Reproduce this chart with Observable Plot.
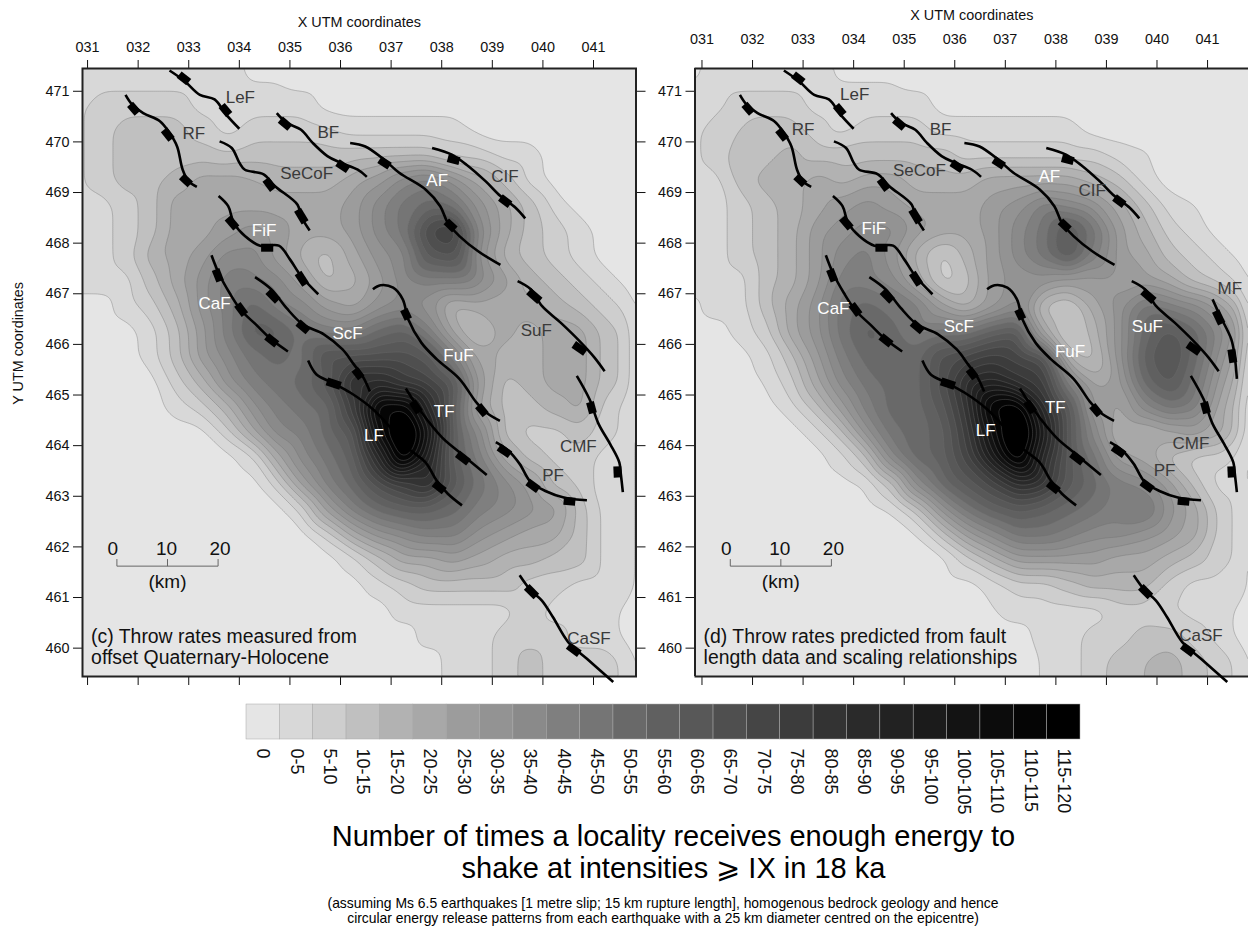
<!DOCTYPE html>
<html><head><meta charset="utf-8">
<script src="https://cdn.jsdelivr.net/npm/d3@7"></script>
<script src="https://cdn.jsdelivr.net/npm/@observablehq/plot@0.6"></script>
<style>
html,body{margin:0;padding:0;background:#fff;overflow:hidden}
#page{position:relative;width:1248px;height:929px;font-family:"Liberation Sans",Arial,sans-serif;color:#000}
#page svg{position:absolute;overflow:visible;background:transparent}
#title{position:absolute;left:0;width:1347px;top:820px;text-align:center;font-size:29px;line-height:32px;white-space:nowrap}
#note{position:absolute;left:0;width:1326px;top:896px;text-align:center;font-size:13.9px;line-height:15px;white-space:nowrap}
</style></head><body><div id="page">
<div id="title">Number of times a locality receives enough energy to<br>shake at intensities ⩾ IX in 18 ka</div>
<div id="note">(assuming Ms 6.5 earthquakes [1 metre slip; 15 km rupture length], homogenous bedrock geology and hence<br>circular energy release patterns from each earthquake with a 25 km diameter centred on the epicentre)</div>
</div>
<script>
const bandLabels=["0","0-5","5-10","10-15","15-20","20-25","25-30","30-35","35-40","40-45","45-50","50-55","55-60","60-65","65-70","70-75","75-80","80-85","85-90","90-95","95-100","100-105","105-110","110-115","115-120"];
const bandColors=["#e5e5e5","#d8d8d8","#cecece","#c0c0c0","#b2b2b2","#a8a8a8","#9c9c9c","#939393","#8a8a8a","#7f7f7f","#757575","#696969","#606060","#585858","#4f4f4f","#454545","#3c3c3c","#333333","#2a2a2a","#222222","#1b1b1b","#131313","#0c0c0c","#050505","#000000"];
const xTicks=[31,32,33,34,35,36,37,38,39,40,41];
const yTicks=[460,461,462,463,464,465,466,467,468,469,470,471];
// band index (0..24) read at each grid node; rows top to bottom, 23 columns
const gridC=[
[0,1,1,1,1,1,0,0,0,0,0,0,0,0,0,0,0,0,0,0,0,0,0],
[0,1,1,1,1,1,1,.4,.4,0,0,0,0,0,0,0,0,0,0,0,0,0,0],
[1,2,2,2,2,1,1,1,1,1,0,0,0,0,0,0,0,0,0,0,0,0,0],
[1,2,3,3,3,2,1,2,2,2,1.6,1,1,1,1,1,0,0,0,0,0,0,0],
[1,2,3,3,3,3,2.5,3,3,3,3,3,3,3,3,2,2,1,1,0,0,0,0],
[1,2,3,3,4,5,5,4.6,4,4,4,5,6,8,9,7,5,3,1,0,0,0,0],
[1,1,2,3,5,5,5,5,5,5,5,6,8,10,11,10,7,5,3,1,0,0,0],
[1,1,2,3,5,5,6,7,6,5,5,6,8,10,15,16,8,5,3,2,1,0,0],
[1,1,2,4,5,6,8,8,6,4,3,5,7,8,13,14,7,4,3,2,1,0,0],
[1,1,1,3,5,7,9,9,8,6,3,4,6,8,9,9,8,6,4,3,2,1,0],
[0,0,1,2,4,7,9,11,9,8,6,5,7,8,7,4,5,5,5,4,3,2,1],
[0,0,0,1,3,6,9,12,12,10,9,9,11,12,9,5,3,5,4,5,5,3,2],
[0,0,0,1,3,6,8,10,11,10,14,14,14,14,13,9,5,4,4,5,5,3,2],
[0,0,0,0,2,4,7,9,10,11,13,18,18,16,15,13,6,3,4,5,5,3,2],
[0,0,0,0,1,2,4,7,9,10,11,16,24,24,18,12,5,3,3,4,5,2,1],
[0,0,0,0,0,0,2,5,8,9,11,13,22,27,21,12,8,3,2,2,3,2,1],
[0,0,0,0,0,0,0,1,5,8,10,12,18,25,19,12,9,5,3,2,2,1,1],
[0,0,0,0,0,0,0,0,2,6,9,11,14,16,18,13,10,8,6,3,2,1,1],
[0,0,0,0,0,0,0,0,0,2,6,9,11,12,12,11,9,8,7,6,3,1,1],
[0,0,0,0,0,0,0,0,0,0,2,5,7,8,9,9,7,6,5,5,3,1,1],
[0,0,0,0,0,0,0,0,0,0,0,1,3,5,5,6,5,4,4,3,3,1,1],
[0,0,0,0,0,0,0,0,0,0,0,0,1,2,3,3,3,3,2,2,1,1,1],
[0,0,0,0,0,0,0,0,0,0,0,0,0,1,1,1,1,1,2,1,1,1,0],
[0,0,0,0,0,0,0,0,0,0,0,0,0,0,1,1,1,2,2,2,1,1,0],
[0,0,0,0,0,0,0,0,0,0,0,0,0,0,0,1,1,2,3,2,2,2,1],
[0,0,0,0,0,0,0,0,0,0,0,0,0,0,0,1,1,2,3,2,2,2,1]
];
const gridD=[
[0,1,1,1,1,1,0,0,0,0,0,0,0,0,0,0,0,0,0,0,0,0,0],
[0,1,1,1,1,1,.4,.4,.4,0,0,0,0,0,0,0,0,0,0,0,0,0,0],
[1,1,2,2,2,1,1,1,1,1,0,0,0,0,0,0,0,0,0,0,0,0,0],
[1,2,2.5,3,3,2,1,2,2,2,1,1,1,1,1,1,0,0,0,0,0,0,0],
[1,2,3,3,4,3,3,3,3,3,3,2,2,2,2,2,2,1,.6,0,0,0,0],
[1,1,3,4,4,5,4,5,5,4,4,4,5,5,5,5,4,3,1,0,0,0,0],
[1,1,2,3,4,5,6,7,6,5,5,5,6,7,9,8,7,5,3,1,.5,0,0],
[1,1,2,3,4,6,7,8,8,6,5,5,6,8,10,13,10,6,4,2,1,0,0],
[1,1,2,3,4,6,8,9,7,4,2,4,6,8,10,13,9,6,5,3,2,1,0],
[1,1,1,3,4,6,9,9,8,5,2,3,6,7,7,6,6,6,6,5,3,2,1],
[0,1,1,3,5,7,10,11,10,9,6,4,6,8,3,2,5,7,10,9,8,6,3],
[0,0,1,2,5,7,10,12,11,9,10,10,12,13,5,2,4,7,11,13,11,8,5],
[0,0,0,1,3,6,9,11,11,11,14,15,16,15,14,4,3,7,12,14,11,7,4],
[0,0,0,.5,2,5,8,10,11,11,14,18,19,17,16,9,5,6,11,13,10,6,3],
[0,0,0,0,1,3,6,9,11,11,13,17,24,25,18,13,6,5,8,10,9,5,2],
[0,0,0,0,0,1,3,7,10,11,12,16,22,27,20,13,8,4,4,5,6,5,2],
[0,0,0,0,0,0,1,3,8,11,12,15,20,25,18,13,10,6,5,3,2,2,1],
[0,0,0,0,0,0,0,.5,3,8,11,13,15,18,17,13,11,9,8,6,3,1,1],
[0,0,0,0,0,0,0,0,.5,3,7,10,12,13,12,11,10,9,10,7,5,2,1],
[0,0,0,0,0,0,0,0,0,.3,3,6,8,10,10,9,8,8,7,6,5,2,1],
[0,0,0,0,0,0,0,0,0,0,0,2,4,6,6,6,6,5,5,4,3,2,1],
[0,0,0,0,0,0,0,0,0,0,0,0,1,2,2,3,4,4,4,2,1,1,1],
[0,0,0,0,0,0,0,0,0,0,0,0,.4,1,1,1,1,2,2,1.5,1,1,0],
[0,0,0,0,0,0,0,0,0,0,0,0,0,0,1,1,2,2,3,3,2,1,0],
[0,0,0,0,0,0,0,0,0,0,0,0,0,0,.6,1,2,3,3.5,4,3,2,1],
[0,0,0,0,0,0,0,0,0,0,0,0,0,0,.6,1,2,3,3.5,4,3,2,1]
];
const faultLines={
LeF:[[32.62,471.41],[32.92,471.2],[33.22,470.93],[33.51,470.84],[33.74,470.54],[34,470.26]],
RF:[[31.75,470.93],[31.88,470.74],[32.1,470.57],[32.43,470.41],[32.62,470.18],[32.77,469.91],[32.88,469.45],[33,469.22],[33.16,469.11]],
BF:[[34.74,470.57],[34.93,470.38],[35.22,470.24],[35.45,469.98],[35.74,469.72],[36,469.59],[36.34,469.45],[36.52,469.31]],
SeCoF:[[33.61,470.01],[33.85,469.88],[34,469.59],[34.11,469.45],[34.48,469.36],[34.7,469.13],[35.15,468.76],[35.22,468.53],[35.39,468.25]],
FiF:[[33.59,468.93],[33.78,468.73],[33.89,468.4],[34.11,468.14],[34.41,467.95],[34.78,467.95],[35,467.68],[35.22,467.35],[35.56,466.99]],
AF:[[36.19,469.98],[36.49,469.91],[36.86,469.65],[37.16,469.39],[37.68,469.06],[37.97,468.73],[38.12,468.4],[38.35,468.14],[38.72,467.84],[39.16,467.57]],
CIF:[[37.81,469.88],[38.2,469.75],[38.49,469.55],[38.87,469.22],[39.16,468.93],[39.46,468.7],[39.65,468.49]],
CaF:[[33.45,467.76],[33.59,467.41],[33.81,467.01],[34.03,466.68],[34.33,466.39],[34.63,466.1],[34.96,465.86]],
ScF:[[34.31,467.33],[34.63,467.09],[34.93,466.72],[35.26,466.39],[35.67,466.2],[36.04,465.9],[36.26,465.61],[36.45,465.35],[36.58,465.07]],
FuF:[[36.64,467.09],[36.79,467.17],[37.04,467.12],[37.23,466.89],[37.34,466.49],[37.6,466.03],[37.9,465.71],[38.35,465.32],[38.68,464.86],[38.87,464.66],[39.15,464.49]],
SuF:[[39.5,467.25],[39.76,467.09],[39.98,466.76],[40.35,466.43],[40.72,466.07],[41.02,465.74],[41.22,465.47]],
LF:[[35.36,465.68],[35.52,465.41],[35.82,465.25],[36.19,465.05],[36.64,464.72],[37.01,464.33],[37.31,463.97],[37.68,463.67],[37.9,463.31],[38.12,463.05],[38.4,462.82]],
TF:[[37.29,465.13],[37.6,464.66],[38.01,464.16],[38.35,463.87],[38.89,463.42]],
PF:[[39.07,464.07],[39.32,463.9],[39.54,463.64],[39.76,463.28],[40.06,463.1],[40.43,462.97],[40.87,462.92]],
CMF:[[40.67,465.38],[40.92,464.92],[41.1,464.43],[41.33,464.03],[41.51,463.67],[41.54,463.44],[41.58,463.08]],
CaSF:[[39.54,461.44],[39.76,461.14],[39.98,460.94],[40.2,460.61],[40.5,460.12],[40.87,459.79],[41.39,459.33]]
};
const faultMF=[[41.1,466.89],[41.25,466.56],[41.47,466.1],[41.54,465.74],[41.58,465.32]];
const faultTicks=[[32.81,471.33,33,471.18],[33.65,470.72,33.8,470.54],[31.84,470.74,31.99,470.57],[32.51,470.24,32.66,470.05],[32.86,469.32,33.03,469.16],[34.81,470.44,35,470.28],[35.94,469.59,36.15,469.45],[34.52,469.26,34.67,469.06],[35.15,468.66,35.3,468.41],[33.77,468.5,33.94,468.3],[34.43,467.91,34.67,467.91],[35.16,467.41,35.31,467.18],[36.77,469.65,36.97,469.52],[38.09,468.43,38.26,468.27],[38.12,469.68,38.35,469.62],[39.16,468.9,39.35,468.76],[33.53,467.48,33.62,467.25],[33.96,466.79,34.11,466.59],[34.54,466.16,34.74,466],[34.57,467.05,34.76,466.86],[35.16,466.43,35.36,466.26],[36.28,465.51,36.41,465.34],[37.25,466.69,37.34,466.5],[38.72,464.79,38.87,464.61],[39.72,467.05,39.94,466.86],[40.61,466,40.84,465.84],[35.73,465.27,36,465.18],[37.85,463.26,38.05,463.1],[37.42,464.87,37.56,464.66],[38.31,463.84,38.53,463.67],[39.13,463.97,39.35,463.82],[39.7,463.28,39.91,463.13],[40.41,462.91,40.64,462.89],[40.93,464.86,40.99,464.64],[41.47,463.59,41.48,463.37],[39.68,461.21,39.87,461.02],[40.5,460.05,40.72,459.89]];
const faultTicksMF=[[41.16,466.66,41.28,466.41],[41.47,465.9,41.51,465.64]];
const labelsC=[["LeF",34.02,470.87,0],["RF",33.1,470.16,0],["BF",35.76,470.18,0],["SeCoF",35.33,469.37,0],["AF",37.91,469.24,1],["CIF",39.25,469.32,0],["FiF",34.49,468.25,1],["CaF",33.51,466.8,1],["ScF",36.14,466.21,1],["SuF",39.87,466.28,0],["FuF",38.33,465.78,1],["TF",38.05,464.68,1],["LF",36.66,464.2,1],["CMF",40.7,463.98,0],["PF",40.2,463.4,0],["CaSF",40.91,460.18,0]];
const labelsD=[["LeF",34.02,470.94,0],["RF",33.0,470.25,0],["BF",35.72,470.25,0],["SeCoF",35.3,469.43,0],["AF",37.87,469.32,1],["CIF",38.72,469.03,0],["FiF",34.4,468.28,1],["CaF",33.6,466.71,1],["ScF",36.08,466.35,1],["SuF",39.81,466.35,1],["FuF",38.28,465.86,1],["TF",37.99,464.76,1],["LF",36.61,464.3,1],["CMF",40.67,464.05,0],["PF",40.15,463.5,0],["CaSF",40.87,460.25,0],["MF",41.44,467.1,0]];
const panelCaptionC="(c) Throw rates measured from\noffset Quaternary-Holocene";
const panelCaptionD="(d) Throw rates predicted from fault\nlength data and scaling relationships";
const scaleBarKm=[["0",-.8],["10",9.8],["20",20.4]];

const thresholds=bandLabels.slice(1).map((_,i)=>i+0.5);
const font='"Liberation Sans",Arial,sans-serif';
const toNodes=g=>g.flatMap((row,r)=>row.map((v,c)=>({x:30.75+c*.5,y:471.75-r*.5,v})));

function panel({grid,labels,caption,left,width,marginLeft,marginRight,xDomain,extraLines,extraTicks,tickPad,titleOffset,yTitle,rightAxis,sbX}){
  const lines=Object.values(faultLines).concat(extraLines);
  const ticks=faultTicks.concat(extraTicks);
  const marks=[
    Plot.frame({fill:bandColors[0],stroke:"none"}),
    Plot.contour(toNodes(grid),{x:"x",y:"y",fill:"v",interpolate:"barycentric",pixelSize:2,blur:3,thresholds,stroke:"#6e6e6e",strokeOpacity:.55,strokeWidth:.7,clip:true}),
    Plot.axisX({anchor:"top",ticks:xTicks,tickSize:9,tickPadding:tickPad,tickFormat:d=>String(d).padStart(3,"0"),label:"X UTM coordinates",labelAnchor:"center",labelArrow:false,labelOffset:titleOffset,fontSize:14.4}),
    Plot.axisX({anchor:"bottom",ticks:xTicks,tickSize:9,tickFormat:()=>"",label:null}),
    Plot.axisY({anchor:"left",ticks:yTicks,tickSize:9,tickPadding:4,tickFormat:d=>String(d),label:null,fontSize:14.4}),
  ];
  if(yTitle) marks.push(Plot.text([yTitle],{x:xDomain[0],y:466.02,dx:-64,rotate:-90,text:d=>d,fontSize:14.4,fill:"#111"}));
  if(rightAxis) marks.push(Plot.axisY({anchor:"right",ticks:yTicks,tickSize:9,tickFormat:()=>"",label:null}));
  if(rightAxis) marks.push(Plot.frame({stroke:"#222",strokeWidth:2}));
  else marks.push(
    Plot.ruleX([xDomain[0]],{stroke:"#222",strokeWidth:2}),
    Plot.ruleY([471.45,459.44],{stroke:"#222",strokeWidth:2})
  );
  for(const l of lines) marks.push(Plot.line(l,{x:d=>d[0],y:d=>d[1],curve:"catmull-rom",stroke:"#000",strokeWidth:2.6,strokeLinecap:"butt"}));
  marks.push(Plot.link(ticks,{x1:d=>d[0],y1:d=>d[1],x2:d=>d[2],y2:d=>d[3],stroke:"#000",strokeWidth:8,strokeLinecap:"butt"}));
  marks.push(
    Plot.link([[sbX,461.62,sbX+2,461.62],[sbX,461.62,sbX,461.76],[sbX+1,461.62,sbX+1,461.76],[sbX+2,461.62,sbX+2,461.76]],{x1:d=>d[0],y1:d=>d[1],x2:d=>d[2],y2:d=>d[3],stroke:"#666",strokeWidth:1}),
    Plot.text(scaleBarKm,{x:d=>sbX+d[1]/10,y:461.96,text:d=>d[0],fontSize:19,fill:"#111"}),
    Plot.text(["(km)"],{x:sbX+1,y:461.3,text:d=>d,fontSize:19,fill:"#111"}),
    Plot.text([caption],{x:xDomain[0]+.17,y:460.03,text:d=>d,textAnchor:"start",lineHeight:1.08,fontSize:19.4,fill:"#111"}),
    Plot.text(labels,{x:d=>d[1],y:d=>d[2],text:d=>d[0],fontSize:17,fill:d=>d[3]?"#ffffff":"#3a3a3a"})
  );
  const p=Plot.plot({width,height:700,marginLeft,marginRight,marginTop:68,marginBottom:24,
    style:{fontFamily:font,background:"transparent",color:"#111"},
    x:{domain:xDomain,axis:null},y:{domain:[459.44,471.45],axis:null},
    color:{type:"threshold",domain:thresholds,range:bandColors,legend:false},
    marks});
  p.style.left=left+"px";p.style.top="0";
  document.getElementById("page").appendChild(p);
}
panel({grid:gridC,labels:labelsC,caption:panelCaptionC,left:0,width:650,marginLeft:82,marginRight:14.5,xDomain:[30.9,41.84],extraLines:[],extraTicks:[],tickPad:8,titleOffset:52,yTitle:"Y UTM coordinates",rightAxis:true,sbX:31.58});
panel({grid:gridD,labels:labelsD,caption:panelCaptionD,left:650,width:598,marginLeft:44.5,marginRight:0,xDomain:[30.862,41.81],extraLines:[faultMF],extraTicks:faultTicksMF,tickPad:16,titleOffset:59,yTitle:null,rightAxis:false,sbX:31.56});

const legend=Plot.plot({width:834,height:116,marginLeft:0,marginRight:0,marginTop:0,marginBottom:81,
  style:{fontFamily:font,background:"transparent",color:"#111"},
  x:{type:"band",domain:bandLabels,padding:0,round:false,axis:null},
  marks:[
    Plot.cell(bandLabels,{x:d=>d,fill:(d,i)=>bandColors[i],stroke:"#a8a8a8",strokeWidth:.5,inset:0}),
    Plot.axisX({anchor:"bottom",tickRotate:90,tickSize:0,tickPadding:9,label:null,fontSize:18})
  ]});
legend.style.left="246px";legend.style.top="704px";
document.getElementById("page").appendChild(legend);
</script></body></html>
